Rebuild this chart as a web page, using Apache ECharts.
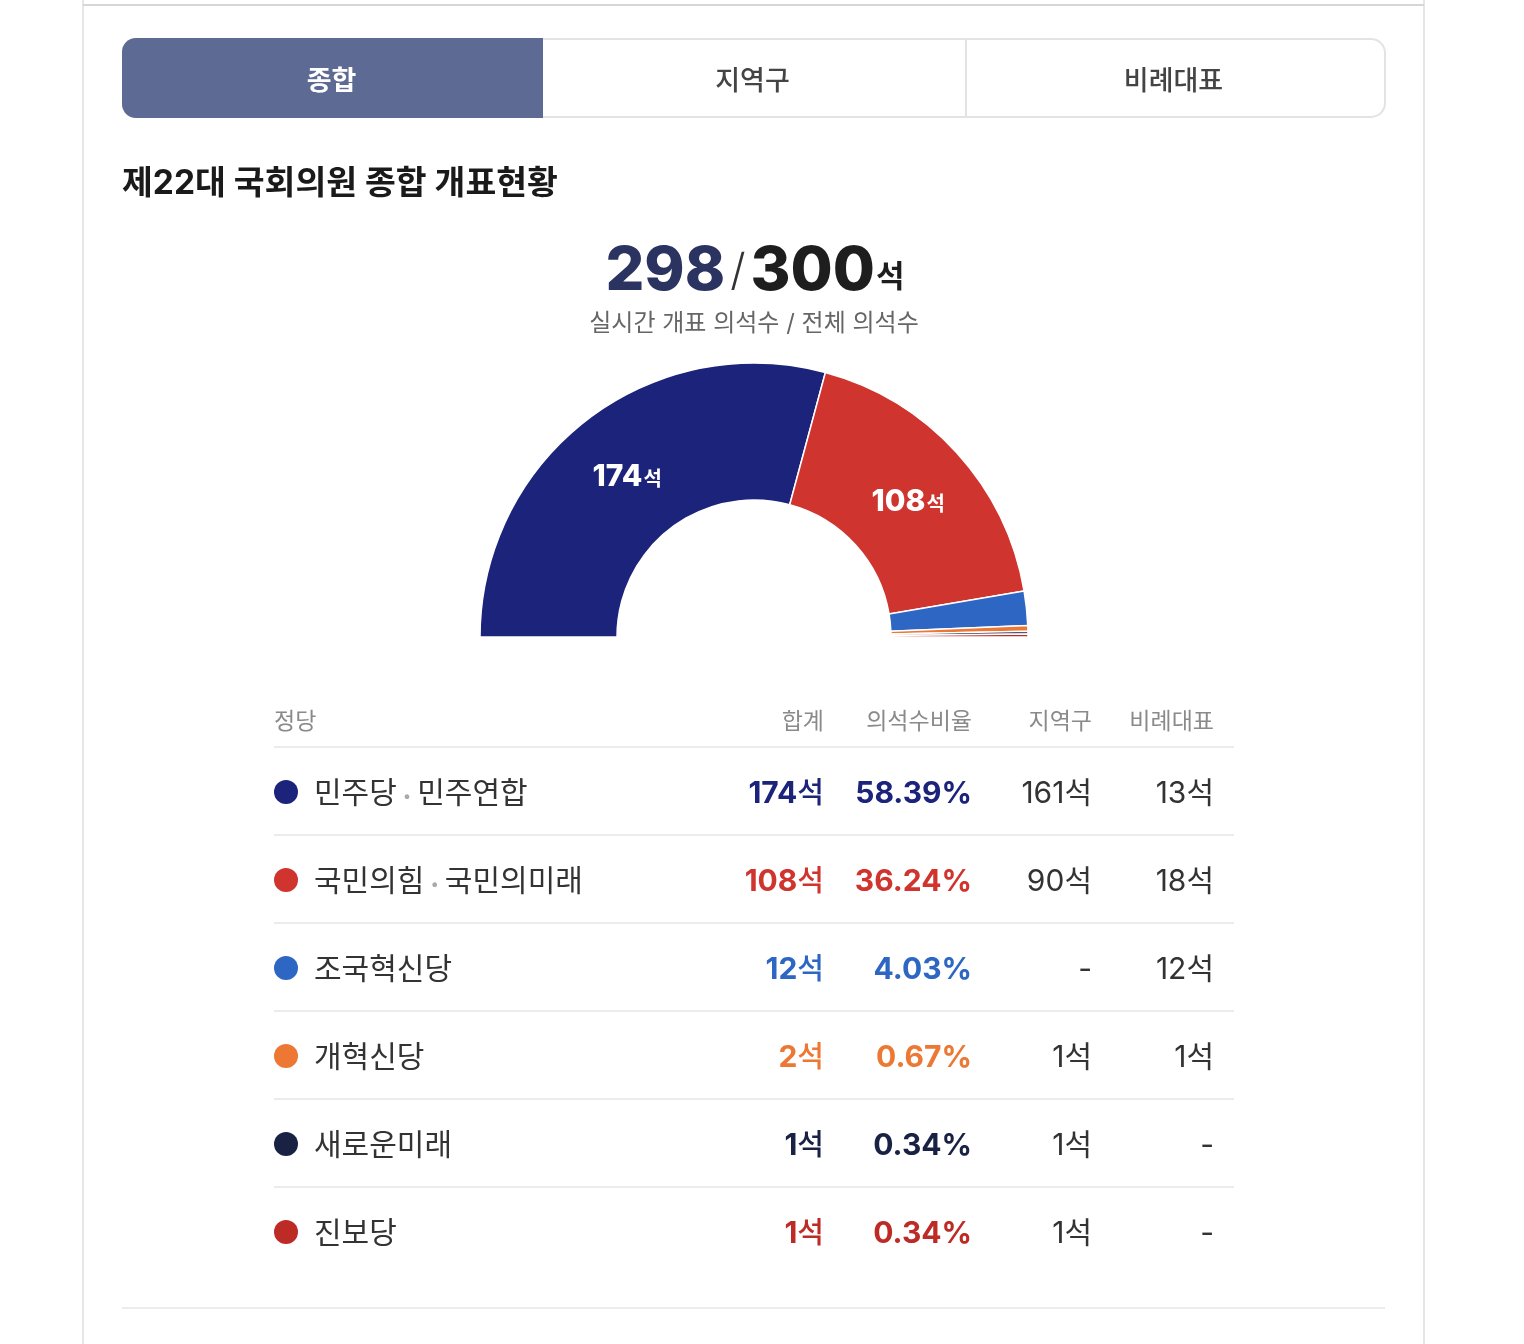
<!DOCTYPE html>
<html lang="ko">
<head>
<meta charset="UTF-8">
<title>제22대 국회의원 종합 개표현황</title>
<script src="https://cdn.jsdelivr.net/npm/echarts@6/dist/echarts.min.js"></script>
<style>
  html, body { margin: 0; padding: 0; background: #fff; }
  #main { width: 1524px; height: 1344px; }
</style>
</head>
<body>
<div id="main"></div>
<script>
// 정당별 의석 데이터
var parties = ['민주당·민주연합', '국민의힘·국민의미래', '조국혁신당', '개혁신당', '새로운미래', '진보당'];
var totals = [174, 108, 12, 2, 1, 1];
var ratios = ['58.39', '36.24', '4.03', '0.67', '0.34', '0.34'];
var district = [161, 90, null, 1, 1, 1];
var proportional = [13, 18, 12, 1, null, null];
var colors = ['#1b237a', '#cf352e', '#2d66c3', '#ec7833', '#1a2244', '#bd2b26'];

var tabs = ['종합', '지역구', '비례대표'];
var headers = ['정당', '합계', '의석수비율', '지역구', '비례대표'];
var counted = 298, allSeats = 300;

var FONT = 'Inter, "Noto Sans CJK KR", sans-serif';
var chart = echarts.init(document.getElementById('main'));

var g = [];
// 카드 테두리
g.push({ type: 'line', shape: { x1: 83, y1: 0, x2: 83, y2: 1344 }, style: { stroke: '#e6e6e6', lineWidth: 2 } });
g.push({ type: 'line', shape: { x1: 1424, y1: 0, x2: 1424, y2: 1344 }, style: { stroke: '#e6e6e6', lineWidth: 2 } });
g.push({ type: 'line', shape: { x1: 83, y1: 5, x2: 1424, y2: 5 }, style: { stroke: '#d6d6d6', lineWidth: 2 } });

// 탭
g.push({ type: 'rect', shape: { x: 123, y: 39, width: 1262, height: 78, r: 14 }, style: { fill: '#fff', stroke: '#e3e3e3', lineWidth: 2 } });
g.push({ type: 'rect', shape: { x: 122, y: 38, width: 421, height: 80, r: [14, 0, 0, 14] }, style: { fill: '#5d6a93' } });
g.push({ type: 'line', shape: { x1: 966, y1: 39, x2: 966, y2: 117 }, style: { stroke: '#e3e3e3', lineWidth: 2 } });
var tabW = 1263 / 3;
tabs.forEach(function (t, i) {
  g.push({
    type: 'text', x: 122 + tabW * i + tabW / 2 - 1, y: 82,
    style: { text: t, fill: i === 0 ? '#fff' : '#444', font: (i === 0 ? '700 ' : '500 ') + '27px ' + FONT, align: 'center', verticalAlign: 'middle' }
  });
});

// 제목
g.push({ type: 'text', x: 122, y: 184, style: { text: '제22대 국회의원 종합 개표현황', fill: '#1a1a1a', font: '700 33.5px ' + FONT, verticalAlign: 'middle' } });

// 개표 의석수
g.push({
  type: 'text', x: 755, y: 272,
  style: {
    text: '{a|' + counted + '}{s|/}{b|' + allSeats + '}{u|석}',
    align: 'center', verticalAlign: 'middle',
    rich: {
      a: { fontFamily: FONT, fontSize: 61, fontWeight: 800, fill: '#2b3461', padding: [0, 3, 0, 0] },
      s: { fontFamily: FONT, fontSize: 44, fontWeight: 300, fill: '#333', padding: [0, 5, 0, 2] },
      b: { fontFamily: FONT, fontSize: 61, fontWeight: 800, fill: '#1e1e1e' },
      u: { fontFamily: FONT, fontSize: 31, fontWeight: 700, fill: '#1e1e1e', padding: [12, 0, 0, 1] }
    }
  }
});
g.push({ type: 'text', x: 754, y: 324, style: { text: '실시간 개표 의석수 / 전체 의석수', fill: '#666', font: '400 24px ' + FONT, align: 'center', verticalAlign: 'middle' } });

// 표
var colRight = [null, 824, 972, 1092, 1214];
headers.forEach(function (h, i) {
  g.push({
    type: 'text', x: i === 0 ? 274 : colRight[i], y: 722,
    style: { text: h, fill: '#8a8a8a', font: '400 23px ' + FONT, align: i === 0 ? 'left' : 'right', verticalAlign: 'middle' }
  });
});
var rowH = 88, firstLine = 747;
parties.forEach(function (p, i) {
  var y = firstLine + rowH * i;
  var cy = y + 45;
  g.push({ type: 'line', shape: { x1: 274, y1: y, x2: 1234, y2: y }, style: { stroke: '#ececec', lineWidth: 2 } });
  g.push({ type: 'circle', shape: { cx: 286, cy: cy, r: 12 }, style: { fill: colors[i] } });
  var parts = p.split('·');
  var txt = parts.map(function (s) { return '{n|' + s + '}'; }).join('{d|•}');
  g.push({
    type: 'text', x: 314, y: cy + 2,
    style: {
      text: txt, verticalAlign: 'middle',
      rich: {
        n: { fontFamily: FONT, fontSize: 30, fill: '#333' },
        d: { fontFamily: FONT, fontSize: 15, fill: '#aaa', padding: [4, 6, 0, 6] }
      }
    }
  });
  g.push({
    type: 'text', x: colRight[1], y: cy + 2,
    style: { text: '{v|' + totals[i] + '}{u|석}', align: 'right', verticalAlign: 'middle',
      rich: { v: { fontFamily: FONT, fontSize: 30, fontWeight: 700, fill: colors[i] }, u: { fontFamily: FONT, fontSize: 29, fontWeight: 500, fill: colors[i] } } }
  });
  g.push({
    type: 'text', x: colRight[2], y: cy + 2,
    style: { text: ratios[i] + '%', fill: colors[i], font: '700 30px ' + FONT, align: 'right', verticalAlign: 'middle' }
  });
  [district[i], proportional[i]].forEach(function (v, k) {
    g.push({
      type: 'text', x: colRight[3 + k], y: cy + 2,
      style: { text: v == null ? '-' : v + '석', fill: '#333', font: '400 30px ' + FONT, align: 'right', verticalAlign: 'middle' }
    });
  });
});
g.push({ type: 'line', shape: { x1: 122, y1: 1308, x2: 1385, y2: 1308 }, style: { stroke: '#ececec', lineWidth: 2 } });

var option = {
  backgroundColor: '#fff',
  animation: false,
  graphic: g,
  series: [{
    type: 'pie',
    center: [754, 637],
    radius: [137, 274],
    startAngle: 180,
    endAngle: 0,
    clockwise: true,
    avoidLabelOverlap: false,
    itemStyle: { borderColor: '#fff', borderWidth: 1.5 },
    label: {
      show: true,
      position: 'inside',
      padding: [11, 0, 0, 0],
      formatter: function (p) { return p.value >= 50 ? '{v|' + p.value + '}{u|석}' : ''; },
      rich: {
        v: { fontFamily: FONT, fontSize: 30, fontWeight: 800, color: '#fff' },
        u: { fontFamily: FONT, fontSize: 20, fontWeight: 700, color: '#fff', padding: [6, 0, 0, 1] }
      }
    },
    labelLine: { show: false },
    emphasis: { disabled: true },
    data: parties.map(function (p, i) {
      return { name: p, value: totals[i], itemStyle: { color: colors[i] } };
    })
  }]
};
chart.setOption(option);
</script>
</body>
</html>
